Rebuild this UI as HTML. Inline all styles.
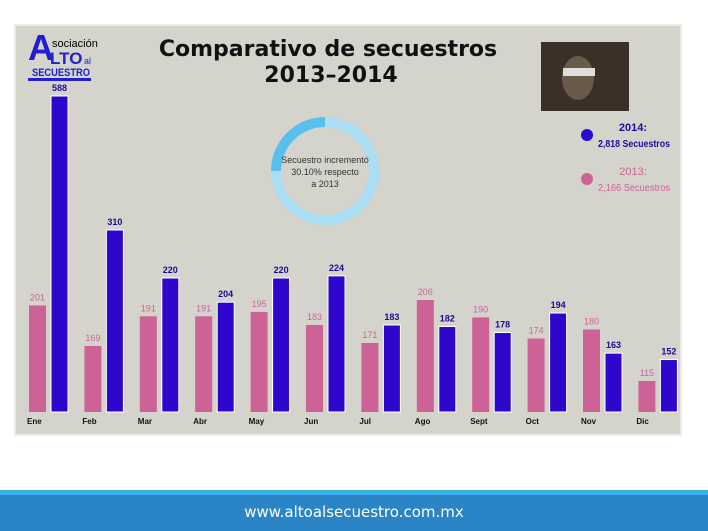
<!DOCTYPE html>
<html><head><meta charset="utf-8"><style>
body{margin:0;width:708px;height:531px;background:#fff;position:relative;overflow:hidden;font-family:"Liberation Sans",sans-serif}
#panel{position:absolute;left:14px;top:24px;width:668px;height:412px;background:#d5d4cc;border:2px solid #ecebe6;box-sizing:border-box}
#footer{position:absolute;left:0;top:490px;width:708px;height:41px;background:#2a84c6;border-top:5px solid #38b2e6;box-sizing:border-box;color:#fff;text-align:center;font-size:15px;line-height:34px;font-family:"DejaVu Sans",sans-serif}
</style></head><body>
<div id="panel"></div>
<svg id="chart" width="708" height="531" style="position:absolute;left:0;top:0">
<g>
<text x="28" y="60" font-size="36" font-weight="bold" fill="#1f1fd0">A</text>
<text x="52" y="47" font-size="11" fill="#000">sociación</text>
<text x="50" y="64" font-size="17" font-weight="bold" fill="#1f1fd0">LTO</text>
<text x="84" y="64" font-size="9" fill="#1f1fd0">al</text>
<text x="32" y="76" font-size="11" font-weight="bold" fill="#1f1fd0" textLength="58" lengthAdjust="spacingAndGlyphs">SECUESTRO</text>
<rect x="28" y="78" width="63" height="3" fill="#1f1fd0"/>
</g>
<text x="328" y="56" text-anchor="middle" font-size="22" font-weight="bold" fill="#111" font-family="DejaVu Sans">Comparativo de secuestros</text>
<text x="331" y="82" text-anchor="middle" font-size="22" font-weight="bold" fill="#111" font-family="DejaVu Sans">2013–2014</text>
<rect x="541" y="42" width="88" height="69" fill="#3a3028"/>
<ellipse cx="578" cy="78" rx="16" ry="22" fill="#6a5a4a"/>
<rect x="563" y="68" width="32" height="8" fill="#ddd"/>
<g>
<circle cx="325" cy="171" r="49" fill="none" stroke="#a9def4" stroke-width="10"/>
<path d="M276 171 A49 49 0 0 1 325 122" fill="none" stroke="#58c0ee" stroke-width="10"/>
<text x="325" y="163" text-anchor="middle" font-size="9" fill="#333">Secuestro incrementó</text>
<text x="325" y="175" text-anchor="middle" font-size="9" fill="#333">30.10% respecto</text>
<text x="325" y="187" text-anchor="middle" font-size="9" fill="#333">a 2013</text>
</g>
<g>
<circle cx="587" cy="135" r="6" fill="#2a0ad0"/>
<text x="633" y="131" text-anchor="middle" font-size="11" font-weight="bold" fill="#220a9c">2014:</text>
<text x="634" y="147" text-anchor="middle" font-size="10" font-weight="bold" fill="#220a9c" textLength="72" lengthAdjust="spacingAndGlyphs">2,818 Secuestros</text>
<circle cx="587" cy="179" r="6" fill="#cc6296"/>
<text x="633" y="175" text-anchor="middle" font-size="11" fill="#cc6296">2013:</text>
<text x="634" y="191" text-anchor="middle" font-size="10" fill="#cc6296" textLength="72" lengthAdjust="spacingAndGlyphs">2,166 Secuestros</text>
</g>
<g id="bars"></g>
</svg>
<div id="footer">www.altoalsecuestro.com.mx</div>
<script>
const months=["Ene","Feb","Mar","Abr","May","Jun","Jul","Ago","Sept","Oct","Nov","Dic"];
const v2013=[201,169,191,191,195,183,171,206,190,174,180,115];
const v2014=[588,310,220,204,220,224,183,182,178,194,163,152];
const scaleDom=[0,115,165,183,206,220,310,588];
const scaleRng=[0,31,60,87,112,134,182,316];
const base=412;
function h(v){for(let i=1;i<scaleDom.length;i++){if(v<=scaleDom[i]||i===scaleDom.length-1){const t=(v-scaleDom[i-1])/(scaleDom[i]-scaleDom[i-1]);return scaleRng[i-1]+t*(scaleRng[i]-scaleRng[i-1]);}}}
function gx(i){return 29+i*55.4;}
const g=document.getElementById('bars');const NS="http://www.w3.org/2000/svg";
function mk(t,a){const e=document.createElementNS(NS,t);for(const k in a)e.setAttribute(k,a[k]);g.appendChild(e);return e;}
months.forEach((m,i)=>{
 const x=gx(i);
 const hp=h(v2013[i]);
 const r1=mk('rect',{x:x,y:base-hp,width:17,height:hp,fill:'#cc6296'});
 
 
 const t1=mk('text',{x:x+8.5,y:base-hp-5,'text-anchor':'middle','font-size':9,fill:'#cc6296'});t1.textContent=v2013[i];
 
 
 const hb=h(v2014[i]);
 const bx=x+22;
 const r2=mk('rect',{x:bx,y:base-hb,width:17,height:hb,fill:'#2f06cc',stroke:'#fff','stroke-width':1});
 
 
 const t2=mk('text',{x:bx+8.5,y:base-hb-5,'text-anchor':'middle','font-size':9,'font-weight':'bold',fill:'#1a0a90'});t2.textContent=v2014[i];
 
 
 const tm=mk('text',{x:x-2,y:424,'font-size':8,'font-weight':'bold',fill:'#111'});tm.textContent=m;
 
 
});
</script>
</body></html>
